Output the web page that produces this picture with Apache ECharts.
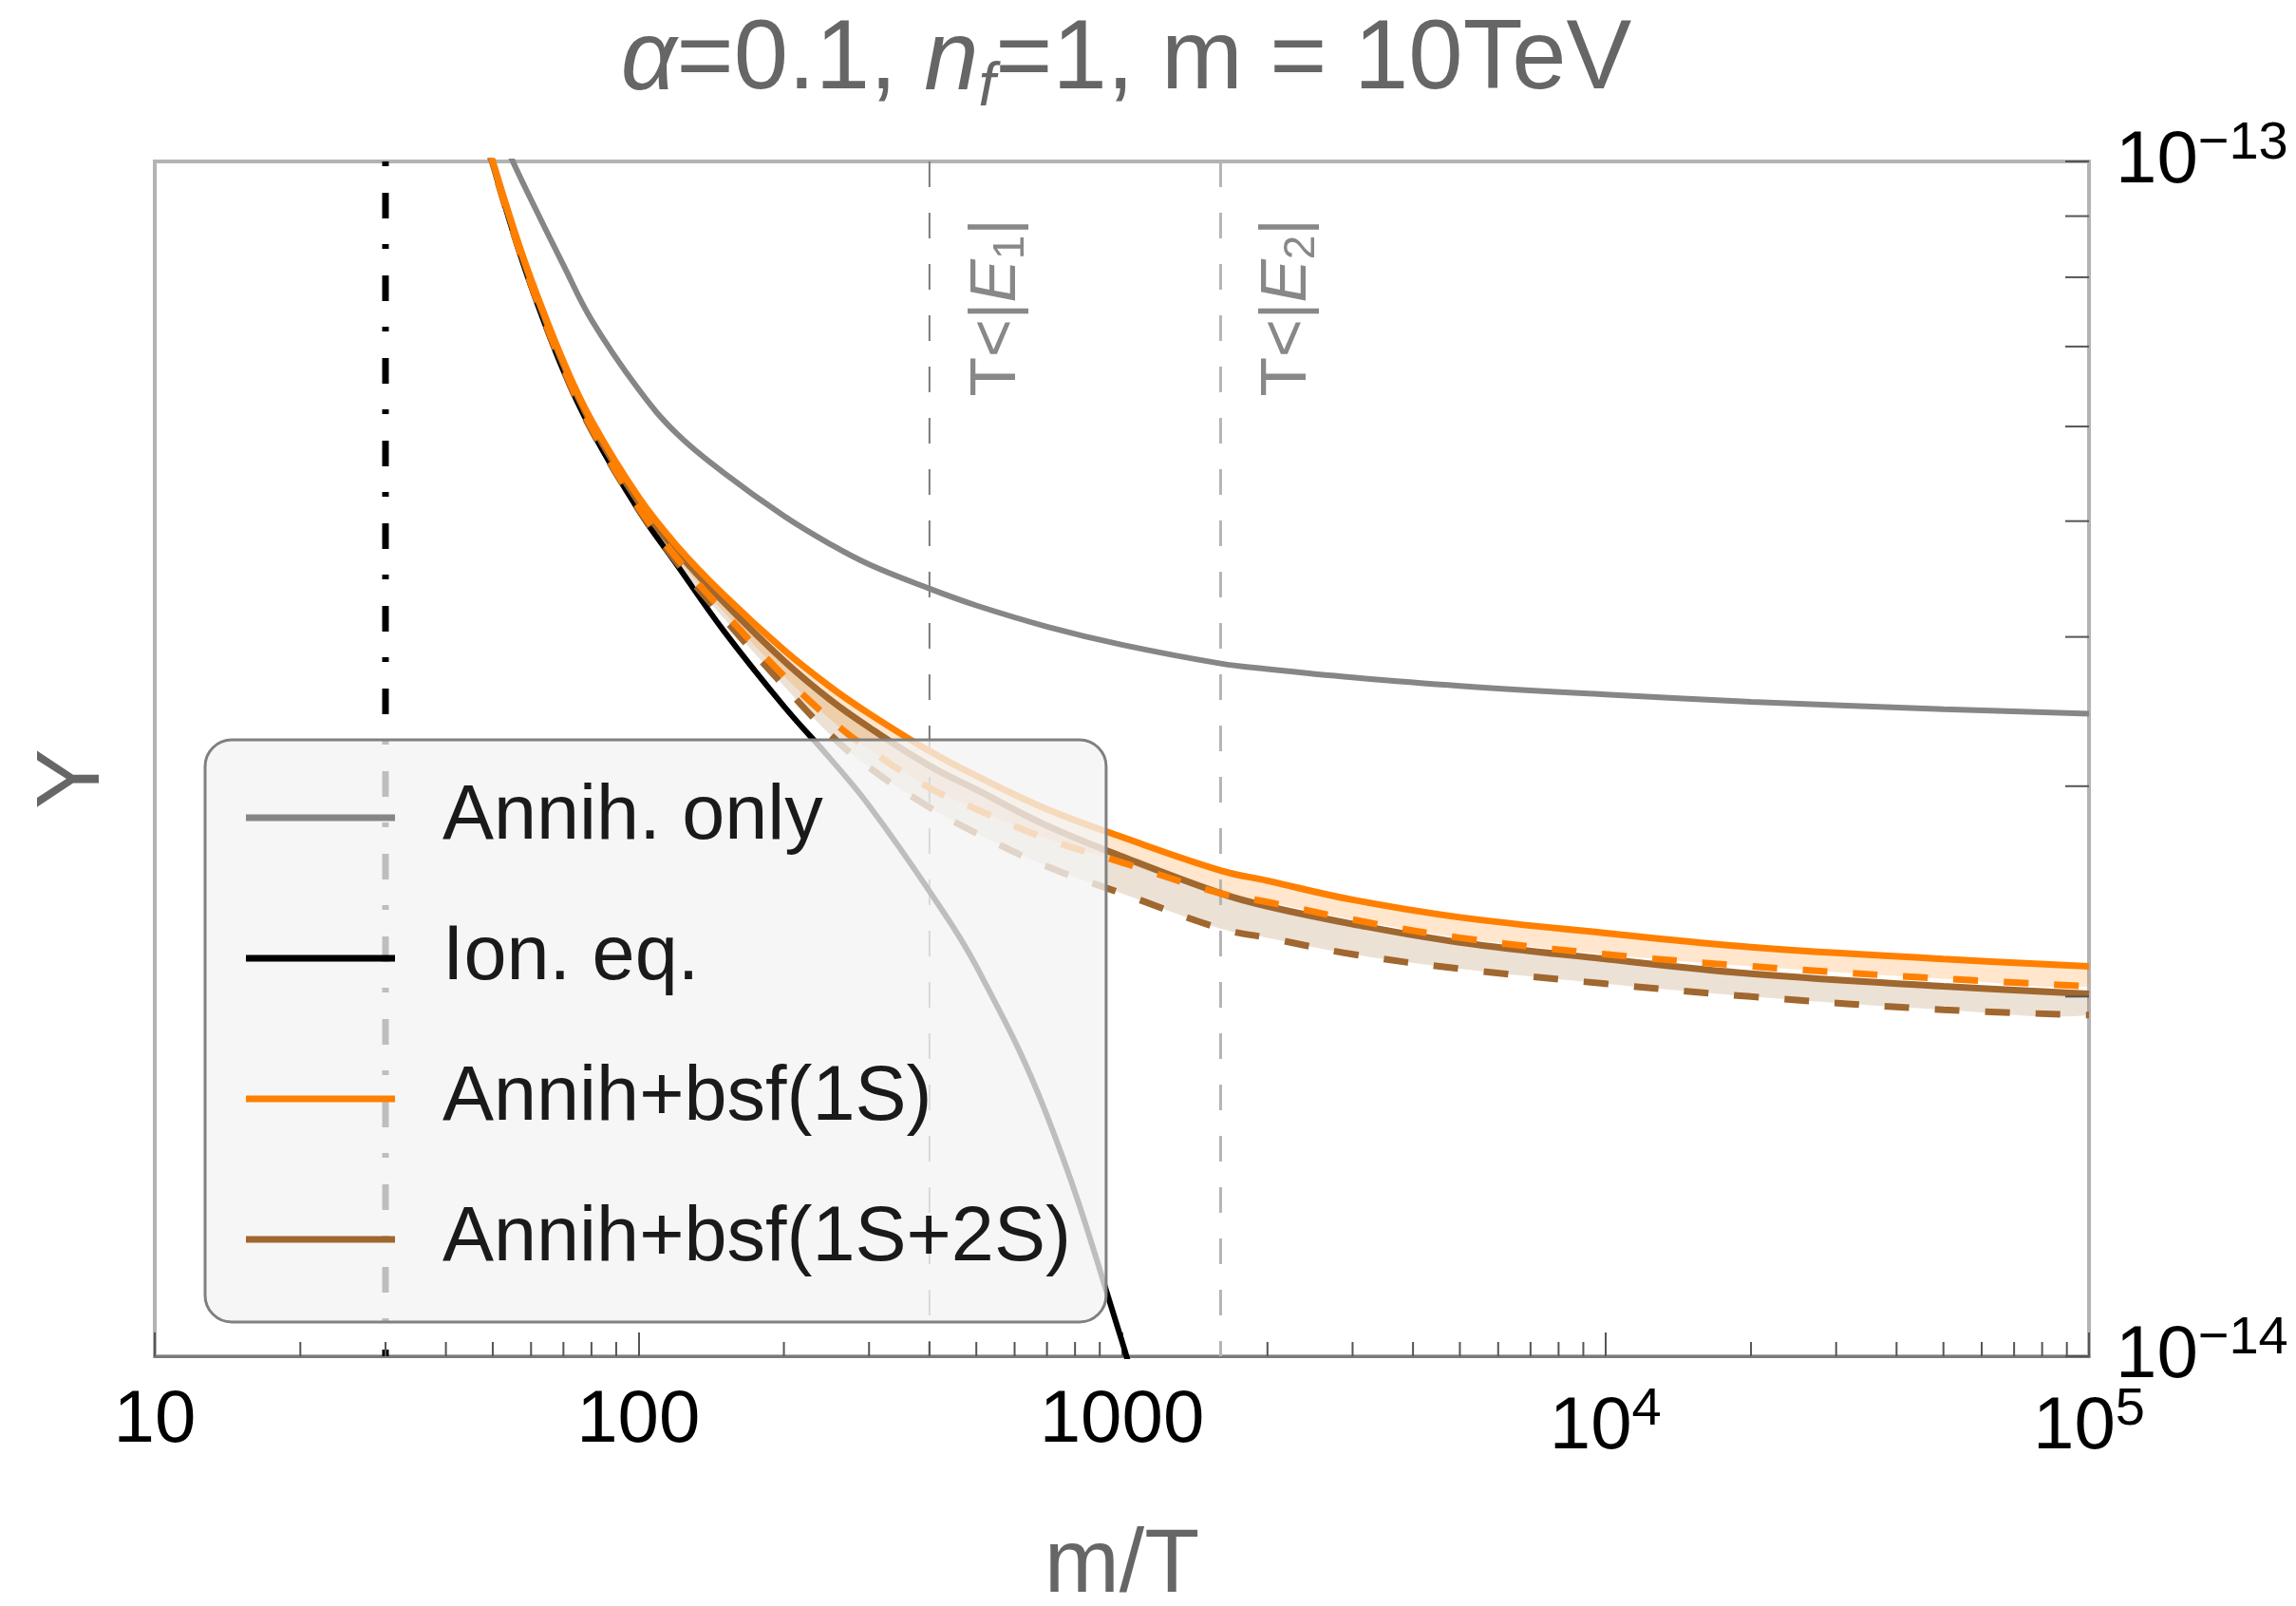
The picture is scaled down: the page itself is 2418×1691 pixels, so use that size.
<!DOCTYPE html>
<html><head><meta charset="utf-8">
<script src="https://cdn.jsdelivr.net/npm/echarts@6/dist/echarts.min.js"></script>
<style>html,body{margin:0;padding:0;background:#fff;}#c{width:2418px;height:1691px;}</style>
</head><body><div id="c"></div>
<script>
const FONT = '"Liberation Sans", Arial, Helvetica, sans-serif';

// ---- data (x = m/T, y = Y in units of 1e-14) ----
const xBundle = [48, 50, 55, 60, 70, 80, 100, 120, 150, 200, 250, 300, 400, 500, 700, 1000, 1600, 2000, 3000, 5000, 1e4, 2e4, 5e4, 1e5];
const bsf1S       = [10.61, 10.00, 8.83, 7.97, 6.80, 6.07, 5.24, 4.77, 4.34, 3.90, 3.63, 3.45, 3.21, 3.06, 2.87, 2.72, 2.55, 2.50, 2.41, 2.33, 2.26, 2.20, 2.15, 2.12];
const bsf1SDash   = [10.55, 9.95, 8.77, 7.90, 6.73, 5.99, 5.14, 4.66, 4.20, 3.71, 3.41, 3.22, 2.99, 2.87, 2.71, 2.59, 2.44, 2.40, 2.32, 2.24, 2.17, 2.12, 2.07, 2.04];
const bsf1S2S     = [10.57, 9.96, 8.80, 7.93, 6.76, 6.03, 5.19, 4.72, 4.28, 3.82, 3.54, 3.36, 3.12, 2.98, 2.78, 2.62, 2.44, 2.38, 2.30, 2.22, 2.15, 2.09, 2.04, 2.01];
const bsf1S2SDash = [10.53, 9.93, 8.75, 7.88, 6.70, 5.96, 5.12, 4.62, 4.15, 3.64, 3.31, 3.11, 2.88, 2.74, 2.57, 2.44, 2.28, 2.24, 2.17, 2.11, 2.05, 2.00, 1.95, 1.93];

const xAnnihOnly = [52, 55, 60, 70, 80, 100, 120, 150, 200, 250, 300, 400, 500, 700, 1000, 1600, 2000, 3000, 5000, 1e4, 2e4, 5e4, 1e5];
const annihOnly  = [10.52, 10.0, 9.29, 8.19, 7.37, 6.45, 5.92, 5.49, 5.05, 4.78, 4.60, 4.39, 4.25, 4.08, 3.94, 3.80, 3.76, 3.70, 3.64, 3.58, 3.53, 3.48, 3.45];

const xIonEq = [48, 50, 55, 60, 70, 80, 100, 120, 150, 200, 250, 300, 400, 500, 700, 1000, 1100];
const ionEq  = [10.58, 9.96, 8.74, 7.86, 6.68, 5.96, 5.11, 4.60, 4.05, 3.50, 3.16, 2.89, 2.45, 2.12, 1.59, 1.03, 0.89];

const yUnit = 1e-14;
const dashDotX = 30;
const boundX = [400, 1600];
const boundSub = ['1', '2'];
const boundLabelY = 8.96e-14;
const xTickLabels = ['10', '100', '1000', '10^4', '10^5'];
const yTickLabels = ['10^-14', '10^-13'];
const xMinorTicks = [20,30,40,50,60,70,80,90,200,300,400,500,600,700,800,900,2000,3000,4000,5000,6000,7000,8000,9000,20000,30000,40000,50000,60000,70000,80000,90000];
const yMinorTicks = [2e-14,3e-14,4e-14,5e-14,6e-14,7e-14,8e-14,9e-14];
const legendNames = ['Annih. only', 'Ion. eq.', 'Annih+bsf(1S)', 'Annih+bsf(1S+2S)'];

const X_MIN = 10, X_MAX = 1e5, Y_MIN = 1e-14, Y_MAX = 1e-13;
const SMOOTH = 0.4;

// ---- helpers ----
const pairs = (xs, ys) => xs.map((x, i) => [x, ys[i] * yUnit]);
function supLabel(s) {
  const k = s.indexOf('^');
  if (k < 0) return '{p|' + s + '}';
  return '{b|' + s.slice(0, k) + '}{sup|' + s.slice(k + 1).replace('-', '\u2212') + '}';
}
const labelRich = {
  p: { fontSize: 78, lineHeight: 78, fontFamily: FONT, color: '#000' },
  b: { fontSize: 78, lineHeight: 92, fontFamily: FONT, color: '#000' },
  sup: { fontSize: 56, lineHeight: 56, fontFamily: FONT, color: '#000', verticalAlign: 'top' }
};
function bandSeries(upper, lower, fill) {
  return {
    type: 'custom', silent: true, z: 2, clip: true,
    data: [[xBundle[0], upper[0] * yUnit]],
    renderItem: (params, api) => {
      const pts = [];
      for (let i = 0; i < xBundle.length; i++) pts.push(api.coord([xBundle[i], upper[i] * yUnit]));
      for (let i = xBundle.length - 1; i >= 0; i--) pts.push(api.coord([xBundle[i], lower[i] * yUnit]));
      return { type: 'polygon', shape: { points: pts, smooth: 0.35 }, style: { fill: fill } };
    }
  };
}
function curve(name, xs, ys, color, width, dash) {
  return {
    type: 'line', name: name, data: pairs(xs, ys), symbol: 'none', smooth: SMOOTH,
    color: color, itemStyle: { color: color },
    lineStyle: { color: color, width: width, type: dash || 'solid' }, z: 3
  };
}

const ORANGE = '#ff8000', BROWN = '#a0672f', GRAY = '#868686';

const chart = echarts.init(document.getElementById('c'), null, { renderer: 'canvas' });
chart.setOption({
  backgroundColor: '#ffffff',
  animation: false,
  title: {
    text: '{i|\u03b1}=0.1, {i|n}{s|f}=1, m = 10TeV',
    left: 1181, textAlign: 'center', top: 0,
    textStyle: {
      fontSize: 103, fontWeight: 'normal', color: '#666', fontFamily: FONT,
      rich: {
        i: { fontSize: 103, fontStyle: 'italic', color: '#666', fontFamily: FONT },
        s: { fontSize: 64, fontStyle: 'italic', color: '#666', fontFamily: FONT, padding: [56, 0, 0, 0] }
      }
    }
  },
  grid: { left: 163, right: 218, top: 170, bottom: 263, containLabel: false, outerBoundsMode: 'none',
          show: true, borderColor: '#b3b3b3', borderWidth: 4, backgroundColor: 'transparent' },
  legend: {
    orient: 'vertical', left: 216, top: 779,
    data: legendNames, icon: 'rect', itemWidth: 157, itemHeight: 7, itemGap: 58,
    padding: [37, 37, 42, 43], selectedMode: false,
    backgroundColor: 'rgba(243,243,243,0.78)', borderColor: '#808080', borderWidth: 3, borderRadius: 28,
    textStyle: { fontSize: 81, lineHeight: 90, color: '#1a1a1a', fontFamily: FONT, padding: [0, 0, 0, 45] }
  },
  xAxis: {
    type: 'log', logBase: 10, min: X_MIN, max: X_MAX,
    name: 'm/T', nameLocation: 'middle', nameGap: 174,
    nameTextStyle: { fontSize: 95, color: '#666', fontFamily: FONT },
    axisLine: { show: true, onZero: false, lineStyle: { color: '#7a7a7a', width: 3 } },
    axisTick: { show: true, inside: true, length: 25, lineStyle: { color: '#555', width: 2 } },
    axisLabel: {
      show: true, margin: 29, showMinLabel: true, showMaxLabel: true,
      formatter: v => supLabel(xTickLabels[Math.round(Math.log10(v)) - 1] || ''),
      rich: labelRich
    },
    splitLine: { show: false }, minorTick: { show: false }
  },
  yAxis: [{
    type: 'log', logBase: 10, min: Y_MIN, max: Y_MAX, position: 'right',
    axisLine: { show: false },
    axisTick: { show: true, inside: true, length: 25, lineStyle: { color: '#555', width: 2 } },
    axisLabel: {
      show: true, margin: 28, showMinLabel: true, showMaxLabel: true,
      formatter: v => supLabel(yTickLabels[Math.round(Math.log10(v)) + 14] || ''),
      rich: labelRich
    },
    splitLine: { show: false }
  }, {
    type: 'log', logBase: 10, min: Y_MIN, max: Y_MAX, position: 'left',
    name: 'Y', nameLocation: 'middle', nameGap: 38, nameRotate: 90,
    nameTextStyle: { fontSize: 95, color: '#666', fontFamily: FONT, padding: [0, 42, 0, 0] },
    axisLine: { show: false }, axisTick: { show: false }, axisLabel: { show: false }, splitLine: { show: false }
  }],
  series: [
    bandSeries(bsf1S2S, bsf1S2SDash, 'rgba(160,103,47,0.2)'),
    bandSeries(bsf1S, bsf1SDash, 'rgba(255,128,0,0.2)'),
    { // vertical dash-dot line
      type: 'line', name: 'dashdot', data: [[dashDotX, Y_MAX], [dashDotX, Y_MIN]], symbol: 'none', silent: true,
      lineStyle: { color: '#000', width: 7, type: [5, 28, 27, 27] }, z: 2
    },
    ...boundX.map((bx, i) => ({
      type: 'line', name: 'bound' + i, data: [[bx, Y_MAX], [bx, Y_MIN]], symbol: 'none', silent: true,
      lineStyle: { color: i === 0 ? '#7a7a7a' : '#b5b5b5', width: i === 0 ? 2 : 3, type: [27, 27] }, z: 2
    })),
    curve('Annih. only', xAnnihOnly, annihOnly, GRAY, 6),
    curve('Ion. eq.', xIonEq, ionEq, '#000', 6),
    curve('Annih+bsf(1S+2S)', xBundle, bsf1S2S, BROWN, 7),
    curve('bd', xBundle, bsf1S2SDash, BROWN, 7, [26, 27]),
    curve('od', xBundle, bsf1SDash, ORANGE, 7, [26, 27]),
    curve('Annih+bsf(1S)', xBundle, bsf1S, ORANGE, 7),
    { // minor ticks on x axis
      type: 'custom', name: 'xminor', silent: true, z: 6, clip: false,
      data: xMinorTicks.map(v => [v, Y_MIN]),
      renderItem: (params, api) => {
        const p = api.coord([api.value(0), api.value(1)]);
        return { type: 'line', shape: { x1: p[0], y1: p[1], x2: p[0], y2: p[1] - 15 }, style: { stroke: '#555', lineWidth: 2 } };
      }
    },
    { // minor ticks on right y axis
      type: 'custom', name: 'yminor', silent: true, z: 6, clip: false,
      data: yMinorTicks.map(v => [X_MAX, v]),
      renderItem: (params, api) => {
        const p = api.coord([api.value(0), api.value(1)]);
        return { type: 'line', shape: { x1: p[0], y1: p[1], x2: p[0] - 25, y2: p[1] }, style: { stroke: '#555', lineWidth: 2 } };
      }
    },
    { // T<|E_n| labels
      type: 'custom', name: 'boundLabels', silent: true, z: 4, clip: false,
      data: boundX.map(v => [v, boundLabelY]),
      renderItem: (params, api) => {
        const p = api.coord([api.value(0), api.value(1)]);
        return {
          type: 'text', x: p[0] + 33, y: p[1], rotation: Math.PI / 2,
          style: {
            text: 'T<|{e|E}{s|' + boundSub[params.dataIndex] + '}|',
            fill: '#888', fontSize: 68, fontFamily: FONT, align: 'right', verticalAlign: 'top',
            rich: {
              e: { fontSize: 68, fontStyle: 'italic', fill: '#888', fontFamily: FONT },
              s: { fontSize: 46, fill: '#888', fontFamily: FONT, padding: [30, 0, 0, 0] }
            }
          }
        };
      }
    }
  ]
});
</script></body></html>
